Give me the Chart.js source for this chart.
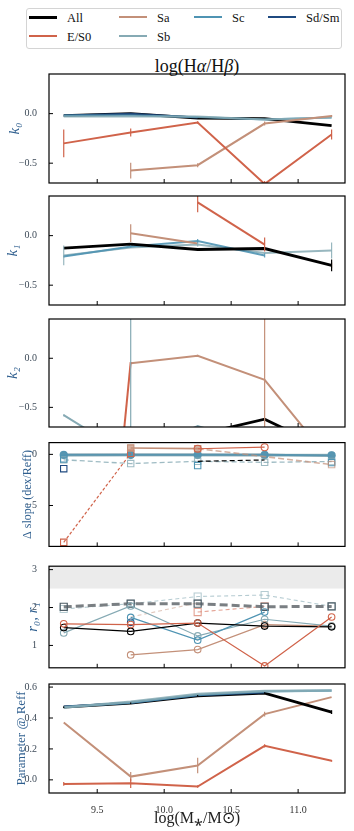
<!DOCTYPE html>
<html>
<head>
<meta charset="utf-8">
<script src="https://cdn.jsdelivr.net/npm/chart.js@4.4.1/dist/chart.umd.min.js"></script>
<style>
  body { margin: 0; width: 354px; height: 831px; position: relative; background: #fff; overflow: hidden;
         font-family: "Liberation Serif", "DejaVu Serif", serif; }
  canvas { position: absolute; left: 0; }
  #legend { position: absolute; left: 26px; top: 8px; width: 314px; height: 39px; border: 1px solid #d4d4d4; border-radius: 3px; }
  .item { position: absolute; width: 80px; height: 16px; font-size: 12.5px; line-height: 16px; color: #111; }
  .item i { position: absolute; left: 0; width: 28px; top: 7px; }
  .item span { position: absolute; left: 38px; top: 1px; white-space: nowrap; }
  #title { position: absolute; left: 49px; width: 296px; top: 56px; text-align: center; font-size: 18px; line-height: 20px; color: #111; }
</style>
</head>
<body>
<div id="legend">
  <div class="item" style="left:2px;top:0px"><i style="border-top:3px solid #000"></i><span>All</span></div>
  <div class="item" style="left:92px;top:0px"><i style="border-top:2px solid #c39079"></i><span>Sa</span></div>
  <div class="item" style="left:167px;top:0px"><i style="border-top:2px solid #4f94b3"></i><span>Sc</span></div>
  <div class="item" style="left:241px;top:0px"><i style="border-top:2px solid #1f4a80"></i><span>Sd/Sm</span></div>
  <div class="item" style="left:2px;top:19px"><i style="border-top:2px solid #d0634a"></i><span>E/S0</span></div>
  <div class="item" style="left:92px;top:19px"><i style="border-top:2px solid #86aab4"></i><span>Sb</span></div>
</div>
<div id="title">log(H<i>α</i>/H<i>β</i>)</div>
<canvas id="p1"></canvas>
<canvas id="p2"></canvas>
<canvas id="p3"></canvas>
<canvas id="p4"></canvas>
<canvas id="p5"></canvas>
<canvas id="p6"></canvas>
<script>
// stellar mass bins
const masses = [9.25, 9.75, 10.25, 10.75, 11.25];
const xTicks = [9.5, 10.0, 10.5, 11.0];
const kTicks = [-0.5, 0.0];
const slopeTicks = [-5, 0];
const rTicks = [1, 2, 3];
const paramTicks = [0.0, 0.2, 0.4, 0.6];

// k0
const k0_all  = [-0.02, 0.0, -0.045, -0.05, -0.12];
const k0_es0  = [-0.30, -0.19, -0.09, -0.71, -0.21];
const k0_es0e = [0.14, 0.04, 0.012, 0.03, 0.05];
const k0_sa   = [null, -0.575, -0.52, -0.10, -0.025];
const k0_sae  = [0, 0.08, 0.02, 0.02, 0.01];
const k0_sb   = [-0.03, -0.03, -0.03, -0.06, -0.04];
const k0_sc   = [-0.02, -0.02, -0.035, -0.06, -0.04];
const k0_sd   = [-0.02, 0.0, -0.04, null, null];

// k1
const k1_all  = [-0.125, -0.085, -0.14, -0.13, -0.30];
const k1_alle = [0, 0, 0, 0, 0.06];
const k1_es0  = [null, null, 0.335, -0.09, null];
const k1_es0e = [0, 0, 0.1, 0.07, 0];
const k1_sa   = [null, 0.025, -0.08, null, -0.30];
const k1_sae  = [0, 0.09, 0, 0, 0.03];
const k1_sb   = [-0.20, -0.12, -0.09, -0.175, -0.15];
const k1_sbe  = [0.1, 0, 0.02, 0, 0.08];
const k1_sc   = [-0.21, -0.11, -0.055, -0.20, null];
const k1_sce  = [0.01, 0.01, 0.02, 0.02, 0];

// k2
const k2_all  = [-0.9, -0.85, -0.78, -0.62, -0.95];
const k2_es0  = [-7.0, -0.04, null, null, null];
const k2_sa   = [null, -0.05, 0.026, -0.22, -1.06];
const k2_sae  = [0, 0, 0.01, 5, 0];
const k2_sb   = [-0.58, -1.0, -0.69, -0.9, null];
const k2_sbe  = [0.01, 5, 0.01, 0, 0];

// delta slope, solid (r0 side) and dashed (r1 side)
const ds_all = [-0.05, -0.05, -0.05, -0.05, -0.1];
const ds_es0 = [null, null, 0.55, 0.7, null];
const ds_sa  = [null, 0.62, 0.56, null, null];
const ds_sb  = [-0.08, -0.07, -0.07, -0.08, -0.08];
const ds_sc  = [-0.05, -0.05, -0.05, -0.05, -0.1];
const dd_all = [null, null, -0.68, -0.55, null];
const dd_es0 = [-8.6, 0.1, null, null, null];
const dd_sa  = [null, null, 0.56, -0.22, -1.0];
const dd_sb  = [-0.53, -0.9, -0.68, -0.78, -0.7];
const dd_sc  = [-0.45, null, -1.09, null, -0.8];
const dd_sd  = [-1.4, null, null, null, null];

// r0 (solid) and r1 (dashed)
const r0_all = [1.47, 1.37, 1.59, 1.51, 1.49];
const r0_es0 = [1.57, 1.55, 1.59, 0.46, 1.75];
const r0_sa  = [null, 0.75, 0.89, 1.55, 1.51];
const r0_sb  = [1.33, 2.04, 1.25, 1.69, 1.51];
const r0_sc  = [null, 1.74, 1.14, 1.88, null];
const r0_sd  = [null, 1.61, null, null, null];
const r1_all = [2.02, 2.10, 2.10, 2.02, 2.03];
const r1_es0 = [null, null, 1.88, 2.03, null];
const r1_sa  = [null, 1.75, 2.12, null, null];
const r1_sb  = [1.96, 2.10, 2.29, 2.33, 2.03];

// parameter at Reff
const p_all  = [0.47, 0.496, 0.544, 0.561, 0.438];
const p_alle = [0.005, 0.005, 0.005, 0.005, 0.012];
const p_es0  = [-0.026, -0.022, -0.043, 0.22, 0.123];
const p_es0e = [0.012, 0.03, 0.008, 0.01, 0.006];
const p_sa   = [0.371, 0.021, 0.093, 0.425, 0.535];
const p_sae  = [0, 0.03, 0.05, 0.015, 0];
const p_sb   = [0.468, 0.505, 0.555, 0.575, 0.578];
const p_sc   = [0.47, 0.50, 0.55, 0.572, 0.577];
const p_sd   = [0.475, 0.498, 0.548, 0.565, null];

const cAll = '#000000', cE = '#d0634a', cSa = '#c39079', cSb = '#86aab4', cSc = '#4f94b3', cSd = '#1f4a80';

function rgba(hex, a) {
  const n = parseInt(hex.slice(1), 16);
  return 'rgba(' + (n >> 16) + ',' + ((n >> 8) & 255) + ',' + (n & 255) + ',' + a + ')';
}

function series(vals, color, o) {
  o = o || {};
  const col = o.a ? rgba(color, o.a) : color;
  return {
    data: masses.map((x, i) => ({ x: x, y: vals[i] })),
    borderColor: col,
    borderWidth: o.w || 2,
    borderDash: o.dash || [],
    pointRadius: o.r || 0,
    pointStyle: o.ps || 'circle',
    pointBorderWidth: o.pw || 1.1,
    pointBorderColor: o.pc || col,
    pointBackgroundColor: o.fill || 'rgba(0,0,0,0)',
    backgroundColor: 'rgba(0,0,0,0)',
    fill: false,
    tension: 0,
    spanGaps: false,
    errs: o.err,
    order: o.order || 0
  };
}

const tickFont = { family: 'Liberation Serif', size: 10 };

const errPlugin = {
  id: 'errs',
  afterDatasetsDraw(c) {
    const ctx = c.ctx, a = c.chartArea, xs = c.scales.x, ys = c.scales.y;
    ctx.save();
    ctx.beginPath();
    ctx.rect(a.left, a.top, a.right - a.left, a.bottom - a.top);
    ctx.clip();
    c.data.datasets.forEach(ds => {
      if (!ds.errs) return;
      ds.data.forEach((p, j) => {
        const e = ds.errs[j];
        if (p.y == null || !e) return;
        const px = xs.getPixelForValue(p.x);
        ctx.strokeStyle = ds.borderColor;
        ctx.lineWidth = 1.2;
        ctx.beginPath();
        ctx.moveTo(px, ys.getPixelForValue(p.y + e));
        ctx.lineTo(px, ys.getPixelForValue(p.y - e));
        ctx.stroke();
      });
    });
    ctx.restore();
  }
};

const framePlugin = {
  id: 'frame',
  afterDraw(c) {
    const ctx = c.ctx, a = c.chartArea;
    ctx.save();
    ctx.strokeStyle = '#000';
    ctx.lineWidth = 1.2;
    ctx.strokeRect(a.left, a.top, a.right - a.left, a.bottom - a.top);
    ctx.lineWidth = 1;
    ctx.beginPath();
    c.scales.x.ticks.forEach(t => {
      const px = c.scales.x.getPixelForValue(t.value);
      ctx.moveTo(px, a.bottom);
      ctx.lineTo(px, a.bottom - 4);
    });
    c.scales.y.ticks.forEach(t => {
      const py = c.scales.y.getPixelForValue(t.value);
      ctx.moveTo(a.left, py);
      ctx.lineTo(a.left + 4, py);
    });
    ctx.stroke();
    ctx.restore();
  }
};

function noPad(s) {
  s.paddingTop = 0; s.paddingBottom = 0; s.paddingLeft = 0; s.paddingRight = 0;
}

function panel(id, top, h, xh, datasets, y, showX) {
  const cv = document.getElementById(id);
  cv.style.top = top + 'px';
  cv.width = 354;
  cv.height = h;
  const bandPlugin = {
    id: 'band',
    beforeDatasetsDraw(c) {
      if (y.band == null) return;
      const a = c.chartArea, ctx = c.ctx;
      const yb = c.scales.y.getPixelForValue(y.band);
      ctx.save();
      ctx.fillStyle = '#ebebeb';
      ctx.fillRect(a.left, a.top, a.right - a.left, yb - a.top);
      ctx.restore();
    }
  };
  new Chart(cv.getContext('2d'), {
    type: 'line',
    data: { datasets: datasets },
    options: {
      responsive: false,
      animation: false,
      events: [],
      layout: { padding: { top: 3, right: 9, left: 0, bottom: 0 } },
      plugins: { legend: { display: false }, tooltip: { enabled: false } },
      scales: {
        x: {
          type: 'linear', min: 9.14, max: 11.35,
          afterBuildTicks: s => { s.ticks = xTicks.map(v => ({ value: v })); },
          afterFit: s => { s.height = xh; noPad(s); },
          grid: { display: false }, border: { display: false },
          ticks: { display: showX, autoSkip: false, maxRotation: 0, padding: 3, font: tickFont, color: '#333',
                   callback: v => v.toFixed(1) },
          title: { display: showX, text: 'log(M\u204E/M\u2299)', color: '#222',
                   font: { family: 'Liberation Serif', size: 16 }, padding: { top: 0, bottom: 3 } }
        },
        y: {
          type: 'linear', min: y.min, max: y.max,
          afterBuildTicks: s => { s.ticks = y.ticks.map(v => ({ value: v })); },
          afterFit: s => { s.width = 49; noPad(s); },
          grid: { display: false }, border: { display: false },
          ticks: { padding: 4, font: tickFont, color: '#3d4a58', callback: y.fmt },
          title: { display: true, text: y.title, color: '#2f5f8f', font: y.font, padding: { top: y.pad, bottom: 0 } }
        }
      }
    },
    plugins: [bandPlugin, errPlugin, framePlugin]
  });
}

const minus = s => s.replace('-', '\u2212');
const f1 = v => minus(v.toFixed(1));
const f0 = v => minus(v.toFixed(0));
const kFont = { family: 'Liberation Serif', size: 15, style: 'italic' };

panel('p1', 71, 115, 3, [
  series(k0_es0, cE, { err: k0_es0e }),
  series(k0_sa, cSa, { err: k0_sae }),
  series(k0_sb, cSb, { a: 0.85 }),
  series(k0_sc, cSc, { a: 0.85 }),
  series(k0_sd, cSd, { a: 0.9 }),
  series(k0_all, cAll, { w: 2.8 })
], { min: -0.7, max: 0.4, ticks: kTicks, fmt: f1, title: 'k\u2080', font: kFont, pad: 6 }, false);

panel('p2', 193, 115, 3, [
  series(k1_es0, cE, { err: k1_es0e }),
  series(k1_sa, cSa, { err: k1_sae }),
  series(k1_all, cAll, { w: 2.8, err: k1_alle }),
  series(k1_sc, cSc, { a: 0.9, err: k1_sce }),
  series(k1_sb, cSb, { a: 0.85, err: k1_sbe })
], { min: -0.7, max: 0.4, ticks: kTicks, fmt: f1, title: 'k\u2081', font: kFont, pad: 4 }, false);

panel('p3', 316, 114, 3, [
  series(k2_es0, cE, {}),
  series(k2_sa, cSa, { err: k2_sae }),
  series(k2_sb, cSb, { err: k2_sbe }),
  series(k2_all, cAll, { w: 2.8 })
], { min: -0.7, max: 0.4, ticks: kTicks, fmt: f1, title: 'k\u2082', font: kFont, pad: 4 }, false);

panel('p4', 437, 115, 3, [
  series(ds_es0, cE, { w: 1.2, r: 3.5 }),
  series(ds_sa, cSa, { w: 1.6, r: 4.5, ps: 'rect', fill: rgba(cSa, 0.7) }),
  series(dd_es0, cE, { w: 1.2, dash: [3, 2], r: 4.5, ps: 'rect' }),
  series(dd_sa, cSa, { w: 1.6, a: 0.7, dash: [6, 3], r: [0, 0, 0, 0, 4.5], ps: 'rect' }),
  series(dd_all, cAll, { w: 1.2, dash: [5, 3] }),
  series(dd_sc, cSc, { w: 1.2, dash: [5, 3], r: 4.5, ps: 'rect' }),
  series(dd_sb, cSb, { w: 1.3, a: 0.8, dash: [5, 3], r: 4.5, ps: 'rect' }),
  series(dd_sd, cSd, { w: 1.2, r: 4.5, ps: 'rect' }),
  series(ds_sc, cSc, { w: 2, a: 0.8, r: 3.5, fill: rgba(cSc, 0.8) }),
  series(ds_sb, cSb, { w: 3, a: 0.7, r: 3.5, fill: rgba(cSb, 0.8) }),
  series(ds_all, '#555555', { w: 2, a: 0.8, r: 3, fill: '#555555' })
], { min: -9.0, max: 1.15, ticks: slopeTicks, fmt: f0, title: 'Δ slope (dex/Reff)',
     font: { family: 'Liberation Serif', size: 12 }, pad: 21 }, false);

panel('p5', 560, 114, 3, [
  series(r0_es0, cE, { w: 1.2, r: 3.3 }),
  series(r0_all, cAll, { w: 1.2, r: 3.3 }),
  series(r0_sc, cSc, { w: 1.2, r: 3.3 }),
  series(r0_sd, cSd, { w: 1.2, r: 3.3 }),
  series(r0_sb, cSb, { w: 1.2, r: 3.3 }),
  series(r0_sa, cSa, { w: 1.2, r: 3.3 }),
  series(r1_all, '#7a7f83', { w: 3, dash: [8, 4], r: 5, ps: 'rect', pc: '#4e5d66', pw: 1.2 }),
  series(r1_es0, cE, { w: 1.1, a: 0.6, dash: [4, 3], r: 5, ps: 'rect' }),
  series(r1_sa, cSa, { w: 1.1, a: 0.5, dash: [4, 3] }),
  series(r1_sb, cSb, { w: 1.1, a: 0.6, dash: [4, 3], r: 5, ps: 'rect' })
], { min: 0.41, max: 3.09, ticks: rTicks, fmt: f0, title: 'r\u2080, r\u2081', band: 2.5,
     font: { family: 'Liberation Serif', size: 15, style: 'italic' }, pad: 24 }, false);

panel('p6', 681, 150, 38, [
  series(p_sb, cSb, { w: 2.6, a: 0.85 }),
  series(p_sc, cSc, { w: 2.2, a: 0.85 }),
  series(p_sd, cSd, { w: 2, a: 0.9 }),
  series(p_all, cAll, { w: 2.8, err: p_alle }),
  series(p_sa, cSa, { w: 2, err: p_sae }),
  series(p_es0, cE, { w: 2, err: p_es0e })
], { min: -0.085, max: 0.62, ticks: paramTicks, fmt: f1, title: 'Parameter @ Reff',
     font: { family: 'Liberation Serif', size: 13 }, pad: 14 }, true);
</script>
</body>
</html>
